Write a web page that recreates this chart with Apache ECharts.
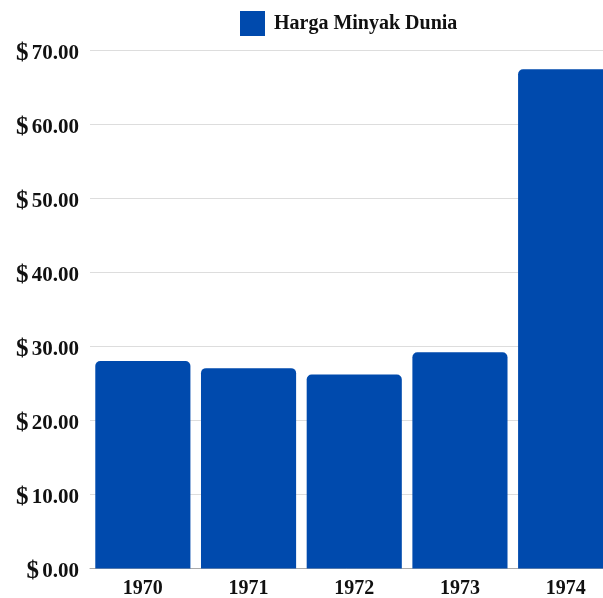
<!DOCTYPE html>
<html>
<head>
<meta charset="utf-8">
<script src="https://cdn.jsdelivr.net/npm/echarts@6/dist/echarts.min.js"></script>
<style>
  html, body { margin: 0; padding: 0; background: #fff; }
  #chart { width: 603px; height: 598px; }
</style>
</head>
<body>
<div id="chart"></div>
<script>
// data
var years = ['1970', '1971', '1972', '1973', '1974'];
var hargaMinyak = [28.0, 27.05, 26.2, 29.2, 67.4];
var seriesName = 'Harga Minyak Dunia';

var myChart = echarts.init(document.getElementById('chart'));

var serif = '"Liberation Serif", "Times New Roman", serif';

var option = {
    animation: false,
    legend: {
        data: [seriesName],
        left: 235,
        top: 6,
        itemWidth: 25,
        itemHeight: 25,
        icon: 'rect',
        textStyle: {
            fontFamily: serif,
            fontWeight: 'bold',
            fontSize: 20,
            color: '#111',
            padding: [0, 0, 0, 4]
        }
    },
    grid: {
        left: 90,
        top: 50,
        bottom: 29.5,
        right: -15.5,
        outerBoundsMode: 'none',
        containLabel: false
    },
    xAxis: {
        type: 'category',
        data: years,
        axisTick: { show: false },
        axisLine: { lineStyle: { color: '#aaa' } },
        axisLabel: {
            fontFamily: serif,
            fontWeight: 'bold',
            fontSize: 20,
            color: '#111',
            margin: 10
        }
    },
    yAxis: {
        type: 'value',
        min: 0,
        max: 70,
        interval: 10,
        splitLine: { lineStyle: { color: '#ddd' } },
        axisLabel: {
            margin: 11,
            padding: [7, 0, 0, 0],
            formatter: function (v) {
                return '{d|$} {n|' + v.toFixed(2) + '}';
            },
            rich: {
                d: { fontFamily: serif, fontWeight: 'bold', fontSize: 25, color: '#111' },
                n: { fontFamily: serif, fontWeight: 'bold', fontSize: 21, color: '#111' }
            }
        }
    },
    series: [{
        name: seriesName,
        type: 'bar',
        data: hargaMinyak,
        barCategoryGap: '10%',
        itemStyle: {
            color: '#004aad',
            borderRadius: [5, 5, 0, 0]
        }
    }]
};

myChart.setOption(option);
</script>
</body>
</html>
